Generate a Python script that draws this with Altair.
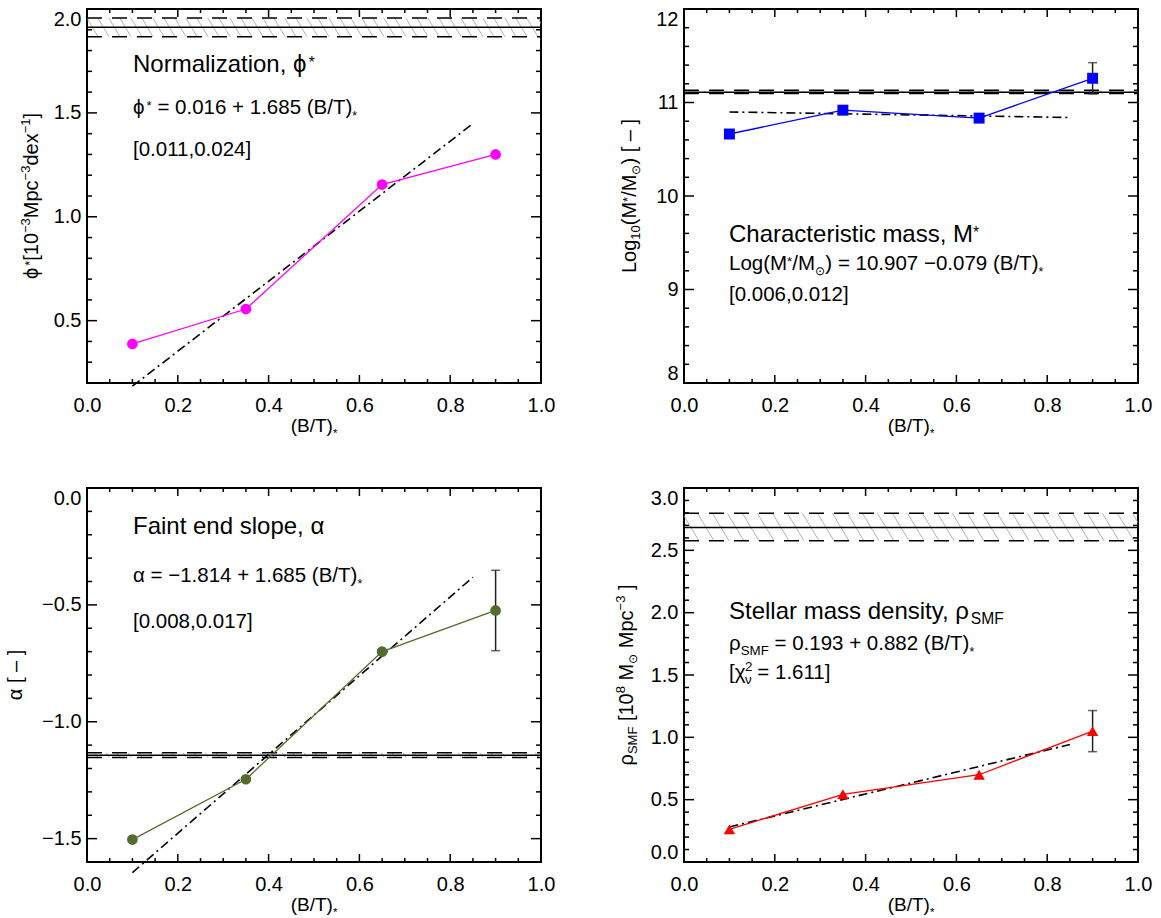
import altair as alt
import numpy as np
import pandas as pd

# ---------------------------------------------------------------- data
# bulge-to-total bins shared by all four panels
BT_BINS = [0.1, 0.35, 0.65, 0.9]

# Schechter parameters of each (B/T)* bin
PHI_STAR = [0.388, 0.556, 1.155, 1.300]          # 1e-3 Mpc^-3 dex^-1
LOG_M_STAR = [10.663, 10.918, 10.833, 11.259]    # log10(M*/Msun)
LOG_M_STAR_ERR = [0.0, 0.0, 0.0, 0.167]
ALPHA = [-1.504, -1.246, -0.700, -0.524]
ALPHA_ERR = [0.0, 0.0, 0.0, 0.172]
RHO_SMF = [0.262, 0.543, 0.700, 1.050]           # 1e8 Msun Mpc^-3
RHO_SMF_ERR = [0.0, 0.0, 0.0, 0.165]

# linear fits: value = a + b (B/T)*
FIT_RANGE = [0.1, 0.85]
PHI_FIT = [0.016, 1.685]
M_FIT = [10.907, -0.079]
ALPHA_FIT = [-1.814, 1.685]
RHO_FIT = [0.193, 0.882]

# fit intervals / goodness of fit quoted under each equation
PHI_INT = "[0.011,0.024]"
M_INT = "[0.006,0.012]"
ALPHA_INT = "[0.008,0.017]"
RHO_CHI2 = "1.611"

# whole-sample values: [lower, central, upper]
PHI_ALL = [1.867, 1.912, 1.957]
M_ALL = [11.095, 11.110, 11.130]
ALPHA_ALL = [-1.153, -1.143, -1.133]
RHO_ALL = [2.576, 2.684, 2.797]

# axes
X_RANGE = [0.0, 1.0]
X_LABELS = [0.0, 0.2, 0.4, 0.6, 0.8, 1.0]
X_MINOR_STEP = 0.05

# ---------------------------------------------------------------- style
FONT = "Liberation Sans"
W, H = 454, 374
TICK_W = 1.5
PHI = "\u03d5"
SPACE = 0.278

# advance widths (em) of the glyphs used in the labels
ADV = {" ": SPACE, "(": .333, ")": .333, "[": .278, "]": .278, ".": .278,
       ",": .278, "/": .278, "=": .584, "+": .584, "*": .389, "\u2212": .584,
       "\u2013": .556, PHI: .66, "\u03b1": .578, "\u03c1": .571,
       "\u03c7": .5, "\u03bd": .5, "\u2299": .838}
for ch in "0123456789":
    ADV[ch] = .556
ADV.update({"A": .667, "B": .667, "C": .722, "D": .722, "E": .667, "F": .611,
            "G": .778, "H": .722, "I": .278, "L": .556, "M": .833, "N": .722,
            "S": .667, "T": .611, "a": .556, "b": .556, "c": .5, "d": .556,
            "e": .556, "f": .278, "g": .556, "h": .556, "i": .222, "k": .5,
            "l": .222, "m": .833, "n": .556, "o": .556, "p": .556, "r": .333,
            "s": .5, "t": .278, "u": .556, "x": .5, "y": .5, "z": .5})

# role -> (relative size, baseline shift in units of the base size, advances)
ROLES = {"n": (1.0, 0.0, True), "sup": (0.65, 0.40, True),
         "sup0": (0.65, 0.40, False), "sub": (0.65, -0.22, True),
         "ssup": (0.65, 0.18, True), "ssub": (0.6, -0.30, True),
         "sun": (0.6, -0.22, True)}


def adv(text, size):
    return sum(ADV.get(c, 0.556) for c in text) * size


def rich(parts, x0, y0, size, angle=0, center=False):
    """Lay out a run of normal / super / subscript pieces as text rows."""
    pieces, off = [], 0.0
    for text, role in parts:
        rel, shift, advances = ROLES[role]
        fs = size * rel
        core = text.strip(" ")
        lead = len(text) - len(text.lstrip(" "))
        trail = len(text) - len(text.rstrip(" "))
        start_off = off + lead * SPACE * fs   # edge spaces become offsets
        pieces.append((core, start_off, shift * size, fs))
        if advances:
            off = start_off + adv(core, fs) + trail * SPACE * fs
    start = -off / 2 if center else 0.0
    rows = []
    for text, o, sh, fs in pieces:
        if angle == 0:
            rows.append(dict(t=text, px=x0 + start + o, py=y0 - sh, fs=fs, ang=0))
        else:
            rows.append(dict(t=text, px=x0 - sh, py=y0 - start - o, fs=fs, ang=angle))
    return rows


def hatch_rows(lo, hi, ydom, spacing_px, slant=0.6):
    band_px = (hi - lo) / (ydom[1] - ydom[0]) * H
    dx = slant * band_px / W
    starts = np.arange(-dx, 1.0 + spacing_px / W, spacing_px / W)
    return pd.DataFrame({"x": starts, "y": hi, "x2": starts + dx, "y2": lo})


def minor(lo, hi, step):
    n = int(round((hi - lo) / step))
    return [round(lo + i * step, 6) for i in range(n + 1)]


def eq_num(v):
    return f"{v:.3f}".replace("-", "\u2212")


def panel(p):
    ydom = p["ydom"]
    xs = alt.Scale(domain=X_RANGE, nice=False, zero=False)
    ys = alt.Scale(domain=ydom, nice=False, zero=False)
    xaxis = alt.Axis(values=X_LABELS, format=".1f", labelFlush=False,
                     labelPadding=12, title=None)
    yaxis = alt.Axis(values=p["ylabels"], format=p["yfmt"], labelFlush=True,
                     labelPadding=6, title=None)

    def X(f="x"):
        return alt.X(f"{f}:Q", scale=xs, axis=xaxis)

    def Y(f="y"):
        return alt.Y(f"{f}:Q", scale=ys, axis=yaxis)

    lo, mid, hi = p["all"]
    layers = []

    # whole-sample value with its hatched uncertainty band
    layers.append(
        alt.Chart(hatch_rows(lo, hi, ydom, p["hatch"]))
        .mark_rule(clip=True, color="#a0a0a0", strokeWidth=0.8)
        .encode(x=X(), y=Y(), x2=alt.X2("x2:Q"), y2=alt.Y2("y2:Q")))
    layers.append(
        alt.Chart(pd.DataFrame({"x": [0.0, 0.0], "x2": [1.0, 1.0], "y": [lo, hi]}))
        .mark_rule(color="black", strokeWidth=1.5, strokeDash=[15, 10])
        .encode(x=X(), x2=alt.X2("x2:Q"), y=Y()))
    layers.append(
        alt.Chart(pd.DataFrame({"x": [0.0], "x2": [1.0], "y": [mid]}))
        .mark_rule(color="black", strokeWidth=1.5)
        .encode(x=X(), x2=alt.X2("x2:Q"), y=Y()))

    # linear fit
    a, b = p["fit"]
    layers.append(
        alt.Chart(pd.DataFrame({"x": FIT_RANGE, "y": [a + b * x for x in FIT_RANGE]}))
        .mark_line(color="black", strokeWidth=1.6, strokeDash=[9, 4, 2, 4])
        .encode(x=X(), y=Y()))

    # binned measurements
    pts = pd.DataFrame({"x": BT_BINS, "y": p["vals"]})
    layers.append(alt.Chart(pts).mark_line(color=p["color"], strokeWidth=1.3)
                  .encode(x=X(), y=Y()))
    if p.get("err"):
        e = pd.DataFrame({"x": BT_BINS, "v": p["vals"], "e": p["err"]})
        e = e[e["e"] > 0]
        bars = pd.DataFrame({"x": e["x"], "y": e["v"] - e["e"], "y2": e["v"] + e["e"]})
        caps = pd.DataFrame({"x": list(e["x"]) * 2,
                             "y": list(e["v"] - e["e"]) + list(e["v"] + e["e"])})
        layers.append(alt.Chart(bars).mark_rule(color="#222222", strokeWidth=1.5)
                      .encode(x=X(), y=Y(), y2=alt.Y2("y2:Q")))
        layers.append(alt.Chart(caps).mark_tick(color="#222222", orient="horizontal",
                                                size=9, thickness=1.5)
                      .encode(x=X(), y=Y()))
    layers.append(alt.Chart(pts).mark_point(shape=p["shape"], filled=True, opacity=1,
                                            size=p["msize"], color=p["color"])
                  .encode(x=X(), y=Y()))

    # inward ticks on all four sides
    x_major = pd.DataFrame({"x": X_LABELS})
    x_minor = pd.DataFrame({"x": [v for v in minor(0.0, 1.0, X_MINOR_STEP)
                                  if v not in X_LABELS]})
    y_major = pd.DataFrame({"y": p["ylabels"]})
    y_minor = pd.DataFrame({"y": [v for v in minor(ydom[0], ydom[1], p["yminor"])
                                  if min(abs(v - m) for m in p["ylabels"]) > 1e-6]})
    for df, ln in ((x_major, 8), (x_minor, 4)):
        for y1, y2 in ((H, H - ln), (0, ln)):
            layers.append(alt.Chart(df).mark_rule(color="black", strokeWidth=TICK_W)
                          .encode(x=X(), y=alt.value(y1), y2=alt.value(y2)))
    for df, ln in ((y_major, 10), (y_minor, 5)):
        for x1, x2 in ((0, ln), (W, W - ln)):
            layers.append(alt.Chart(df).mark_rule(color="black", strokeWidth=TICK_W)
                          .encode(y=Y(), x=alt.value(x1), x2=alt.value(x2)))

    # annotations and axis titles
    rows = []
    for parts, (tx, ty), size in p["notes"]:
        rows += rich(parts, tx, ty, size)
    rows += rich([("(B/T)", "n"), ("*", "ssub")], W / 2, H + 48.5, 19, center=True)
    rows += rich(p["ytitle"], p["ytitle_x"], H / 2, 20, angle=270, center=True)
    layers.append(
        alt.Chart(pd.DataFrame(rows))
        .mark_text(align="left", baseline="alphabetic", font=FONT, color="black")
        .encode(x=alt.X("px:Q", scale=None), y=alt.Y("py:Q", scale=None),
                text="t:N", size=alt.Size("fs:Q", scale=None),
                angle=alt.Angle("ang:Q", scale=None)))

    if p.get("anchor"):
        # pins the top-left corner of the page relative to this plot area
        layers.append(alt.Chart(pd.DataFrame({"a": [0]}))
                      .mark_rule(strokeOpacity=0, strokeWidth=0.1)
                      .encode(x=alt.value(-86), x2=alt.value(-86),
                              y=alt.value(-8), y2=alt.value(-7)))

    return alt.layer(*layers).properties(width=W, height=H)


EQ = 20.5
TI = 24

phi_panel = panel(dict(
    ydom=[0.2, 2.0], ylabels=[0.5, 1.0, 1.5, 2.0], yfmt=".1f", yminor=0.1,
    all=PHI_ALL, hatch=11, fit=PHI_FIT, vals=PHI_STAR, color="#ff00ff",
    shape="circle", msize=115, anchor=True,
    notes=[([("Normalization, " + PHI, "n"), ("*", "ssup")], (46, 63), TI),
           ([(PHI, "n"), ("*", "ssup"),
             (f" = {eq_num(PHI_FIT[0])} + {eq_num(PHI_FIT[1])} (B/T)", "n"), ("*", "ssub")],
            (46, 105), EQ),
           ([(PHI_INT, "n")], (46, 147), EQ)],
    ytitle=[(PHI, "n"), ("*", "ssup"), ("[10", "n"), ("\u22123", "sup"),
            ("Mpc", "n"), ("\u22123", "sup"), ("dex", "n"), ("\u22121", "sup"), ("]", "n")],
    ytitle_x=-49))

m_panel = panel(dict(
    ydom=[8.0, 12.0], ylabels=[8, 9, 10, 11, 12], yfmt="d", yminor=0.2,
    all=M_ALL, hatch=11, fit=M_FIT, vals=LOG_M_STAR, err=LOG_M_STAR_ERR,
    color="#0000ff", shape="square", msize=120,
    notes=[([("Characteristic mass, M", "n"), ("*", "ssup")], (45, 233), TI),
           ([("Log(M", "n"), ("*", "ssup"), ("/M", "n"), ("\u2299", "sun"),
             (f") = {eq_num(M_FIT[0])} \u2212{eq_num(abs(M_FIT[1]))} (B/T)", "n"),
             ("*", "ssub")], (45, 261), EQ),
           ([(M_INT, "n")], (45, 292), EQ)],
    ytitle=[("Log", "n"), ("10", "sub"), ("(M", "n"), ("*", "ssup"), ("/M", "n"),
            ("\u2299", "sun"), (") [ \u2013 ]", "n")],
    ytitle_x=-48))

alpha_panel = panel(dict(
    ydom=[-1.6, 0.0], ylabels=[-1.5, -1.0, -0.5, 0.0], yfmt=".1f", yminor=0.1,
    all=ALPHA_ALL, hatch=11, fit=ALPHA_FIT, vals=ALPHA, err=ALPHA_ERR,
    color="#556b2f", shape="circle", msize=115,
    notes=[([("Faint end slope, \u03b1", "n")], (46, 46), TI),
           ([(f"\u03b1 = {eq_num(ALPHA_FIT[0])} + {eq_num(ALPHA_FIT[1])} (B/T)", "n"),
             ("*", "ssub")], (46, 94), EQ),
           ([(ALPHA_INT, "n")], (46, 140), EQ)],
    ytitle=[("\u03b1 [ \u2013 ]", "n")],
    ytitle_x=-65))

rho_panel = panel(dict(
    ydom=[0.0, 3.0], ylabels=[0.0, 0.5, 1.0, 1.5, 2.0, 2.5, 3.0], yfmt=".1f", yminor=0.1,
    all=RHO_ALL, hatch=15, fit=RHO_FIT, vals=RHO_SMF, err=RHO_SMF_ERR,
    color="#ff0000", shape="triangle-up", msize=130,
    notes=[([("Stellar mass density, \u03c1", "n"), ("SMF", "sub")], (45, 131), TI),
           ([("\u03c1", "n"), ("SMF", "sub"),
             (f" = {eq_num(RHO_FIT[0])} + {eq_num(RHO_FIT[1])} (B/T)", "n"), ("*", "ssub")],
            (45, 162), EQ),
           ([("[\u03c7", "n"), ("2", "sup0"), ("\u03bd", "sub"), (f" = {RHO_CHI2}]", "n")],
            (45, 191), EQ)],
    ytitle=[("\u03c1", "n"), ("SMF", "sub"), (" [10", "n"), ("8", "sup"), (" M", "n"),
            ("\u2299", "sun"), (" Mpc", "n"), ("\u22123", "sup"), (" ]", "n")],
    ytitle_x=-51))

chart = (
    alt.concat(phi_panel, m_panel, alpha_panel, rho_panel, columns=2,
               spacing=alt.RowColnumber(row=105, column=143), bounds="flush")
    .configure_view(stroke="black", strokeWidth=2)
    .configure_axis(domain=False, ticks=False, tickSize=0, grid=False,
                    labelFont=FONT, labelFontSize=20, labelColor="black")
    .properties(padding=0, background="white")
)

chart.save("out.html", embed_options={"renderer": "svg", "actions": False})
